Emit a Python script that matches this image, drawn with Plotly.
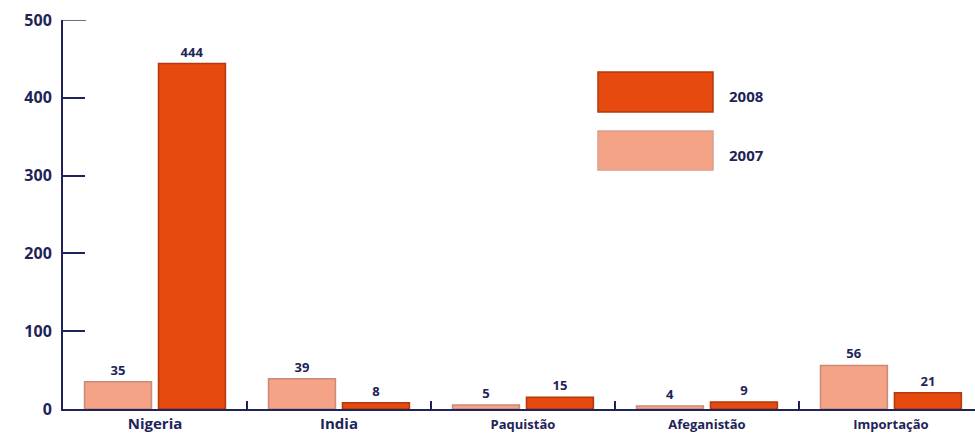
import plotly.graph_objects as go

# Categories and values per year
categories = ["Nigeria", "India", "Paquistão", "Afeganistão", "Importação"]
cat_labels = [
    "Nigeria",
    "India",
    "<span style='font-size:13px'>Paquistão</span>",
    "<span style='font-size:13px'>Afeganistão</span>",
    "<span style='font-size:13px'>Importação</span>",
]
values_2007 = [35, 39, 5, 4, 56]
values_2008 = [444, 8, 15, 9, 21]
y_ticks = [0, 100, 200, 300, 400, 500]

NAVY = "#1e2459"
C2007 = "#f4a386"
C2008 = "#e64a0e"
FONT = "Open Sans"

fig = go.Figure()
fig.add_trace(go.Bar(
    x=categories, y=values_2007, name="2007",
    marker=dict(color=C2007, line=dict(color="#c98a78", width=1.5)),
    text=values_2007, textposition="outside", cliponaxis=False,
    textfont=dict(family=FONT, size=13, color=NAVY, weight="bold"),
))
fig.add_trace(go.Bar(
    x=categories, y=values_2008, name="2008",
    marker=dict(color=C2008, line=dict(color="#b33a0c", width=1.5)),
    text=values_2008, textposition="outside", cliponaxis=False,
    textfont=dict(family=FONT, size=13, color=NAVY, weight="bold"),
))

# Legend drawn as large swatches with labels (pixel rows converted to paper units)
plot_top, plot_h, plot_w, plot_left = 20, 389, 912, 63
def py(row):
    return 1 - (row - plot_top) / plot_h

def px(col):
    return (col - plot_left) / plot_w

legend_items = [("2008", C2008, "#b33a0c", 72, 112), ("2007", C2007, "#d9a090", 131, 170)]
for label, fill, edge, top, bottom in legend_items:
    fig.add_shape(type="rect", xref="paper", yref="paper",
                  x0=px(598), x1=px(713), y0=py(bottom), y1=py(top),
                  fillcolor=fill, line=dict(color=edge, width=1.5))
    fig.add_annotation(xref="paper", yref="paper", x=px(727), y=py((top + bottom) / 2 + 4),
                       text=label, showarrow=False, xanchor="left", yanchor="middle",
                       font=dict(family=FONT, size=15, color=NAVY, weight="bold"))

# Top tick at 500, which sits on the plot edge
fig.add_shape(type="line", xref="paper", yref="y", x0=0, x1=px(86), y0=500, y1=500,
              line=dict(color="#6a6f86", width=2))

fig.update_layout(
    width=975, height=441,
    margin=dict(l=63, r=0, t=20, b=32),
    paper_bgcolor="white", plot_bgcolor="white",
    showlegend=False,
    barmode="group", bargap=0.196, bargroupgap=0.095,
    font=dict(family=FONT, color=NAVY),
)
fig.update_xaxes(
    type="category", range=[-0.5, 4.457],
    tickmode="array", tickvals=categories, ticktext=cat_labels,
    tickson="boundaries", ticks="inside", ticklen=8, tickwidth=2, tickcolor=NAVY,
    showline=True, linecolor=NAVY, linewidth=2,
    showgrid=False, zeroline=False,
    tickfont=dict(family=FONT, size=15, color=NAVY, weight="bold"),
)
fig.update_yaxes(
    range=[0, 500], tickvals=y_ticks,
    ticks="inside", ticklen=22, tickwidth=2, tickcolor=NAVY,
    ticklabelstandoff=6,
    showline=True, linecolor=NAVY, linewidth=2,
    showgrid=False, zeroline=False,
    tickfont=dict(family=FONT, size=16, color=NAVY, weight="bold"),
)

fig.write_html("out.html")
